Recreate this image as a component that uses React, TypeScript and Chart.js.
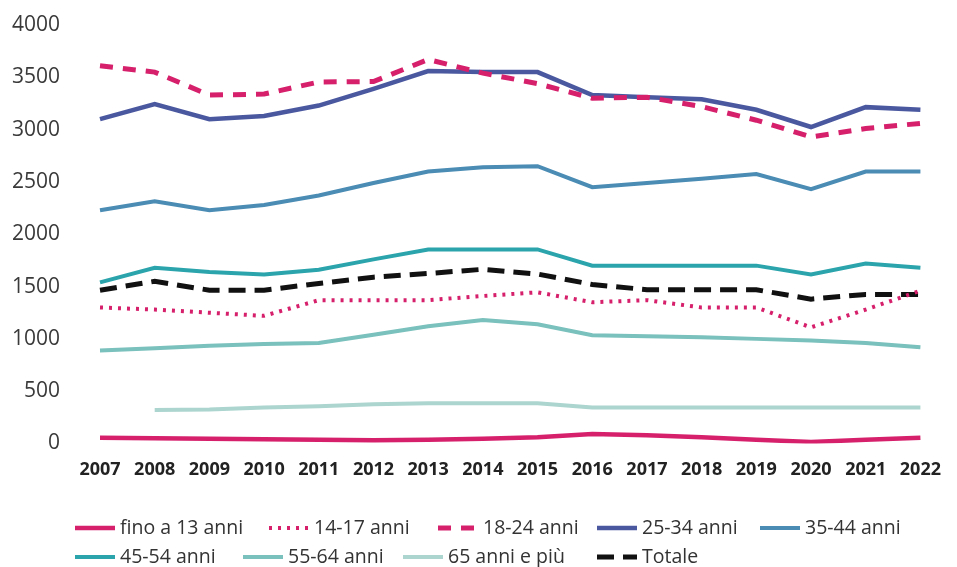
import React, { useEffect, useRef } from 'react';
import { Chart, registerables } from 'chart.js';

Chart.register(...registerables);

const years = ['2007', '2008', '2009', '2010', '2011', '2012', '2013', '2014', '2015', '2016', '2017', '2018', '2019', '2020', '2021', '2022'];

const fino13 = [55, 50, 45, 40, 35, 30, 35, 45, 60, 90, 80, 60, 35, 15, 35, 55];
const anni14_17 = [1300, 1280, 1250, 1220, 1370, 1370, 1370, 1410, 1445, 1350, 1370, 1300, 1300, 1110, 1280, 1460];
const anni18_24 = [3610, 3550, 3330, 3340, 3455, 3460, 3670, 3540, 3440, 3300, 3310, 3220, 3090, 2930, 3010, 3060];
const anni25_34 = [3100, 3245, 3100, 3130, 3230, 3390, 3560, 3550, 3550, 3330, 3310, 3290, 3190, 3025, 3215, 3190];
const anni35_44 = [2230, 2315, 2230, 2280, 2370, 2490, 2600, 2640, 2650, 2450, 2490, 2530, 2575, 2430, 2600, 2600];
const anni45_54 = [1540, 1680, 1640, 1615, 1660, 1760, 1855, 1855, 1855, 1700, 1700, 1700, 1700, 1615, 1720, 1680];
const anni55_64 = [890, 910, 935, 950, 960, 1040, 1120, 1180, 1140, 1035, 1025, 1015, 1000, 985, 960, 920];
const anni65 = [null, 320, 325, 345, 355, 375, 385, 385, 385, 345, 345, 345, 345, 345, 345, 345];
const totale = [1465, 1550, 1465, 1465, 1530, 1590, 1625, 1665, 1620, 1520, 1470, 1470, 1470, 1380, 1425, 1425];

const seriesLabels = ['fino a 13 anni', '14-17 anni', '18-24 anni', '25-34 anni', '35-44 anni', '45-54 anni', '55-64 anni', '65 anni e più', 'Totale'];
const yTicks = [0, 500, 1000, 1500, 2000, 2500, 3000, 3500, 4000];

const CRIMSON = '#d6206c';

const legendLayout = [
  { row: 0, x: 75 },
  { row: 0, x: 269 },
  { row: 0, x: 438 },
  { row: 0, x: 597 },
  { row: 0, x: 760 },
  { row: 1, x: 75 },
  { row: 1, x: 243 },
  { row: 1, x: 403 },
  { row: 1, x: 597 },
];
const legendRowY = [528, 557];

const legendPlugin = {
  id: 'customLegend',
  afterDraw(chart: any) {
    const ctx = chart.ctx;
    ctx.save();
    chart.data.datasets.forEach((ds: any, i: number) => {
      const pos = legendLayout[i];
      const y = legendRowY[pos.row];
      ctx.beginPath();
      ctx.strokeStyle = ds.borderColor;
      ctx.lineWidth = ds.borderWidth;
      ctx.setLineDash(ds.borderDash || []);
      ctx.lineCap = 'butt';
      ctx.moveTo(pos.x, y);
      ctx.lineTo(pos.x + 40, y);
      ctx.stroke();
      ctx.setLineDash([]);
      ctx.fillStyle = '#333333';
      ctx.font = '19.5px "Open Sans"';
      ctx.textBaseline = 'middle';
      ctx.textAlign = 'left';
      ctx.fillText(ds.label, pos.x + 45, y);
    });
    ctx.restore();
  },
};

export default function App() {
  const canvasRef = useRef<HTMLCanvasElement | null>(null);

  useEffect(() => {
    if (!canvasRef.current) return;
    const mk = (label: string, data: any[], color: string, width: number, dash: number[] = []) => ({
      label,
      data,
      borderColor: color,
      backgroundColor: color,
      borderWidth: width,
      borderDash: dash,
      pointRadius: 0,
      tension: 0,
      fill: false,
      spanGaps: false,
    });
    const datasets = [
      mk(seriesLabels[0], fino13, CRIMSON, 4.5),
      mk(seriesLabels[1], anni14_17, CRIMSON, 4, [3, 6]),
      mk(seriesLabels[2], anni18_24, CRIMSON, 5, [13, 10]),
      mk(seriesLabels[3], anni25_34, '#4a58a0', 4.5),
      mk(seriesLabels[4], anni35_44, '#4a8cb4', 4),
      mk(seriesLabels[5], anni45_54, '#2ba4ac', 4),
      mk(seriesLabels[6], anni55_64, '#7ac0bc', 4),
      mk(seriesLabels[7], anni65, '#acd5cf', 4),
      mk(seriesLabels[8], totale, '#111111', 5, [17, 9]),
    ];
    const chart = new Chart(canvasRef.current, {
      type: 'line',
      data: { labels: years, datasets },
      plugins: [legendPlugin],
      options: {
        animation: false,
        responsive: false,
        maintainAspectRatio: false,
        layout: { padding: { top: 25, right: 25, bottom: 0, left: 0 } },
        plugins: { legend: { display: false }, tooltip: { enabled: false } },
        scales: {
          x: {
            offset: false,
            grid: { display: false, drawTicks: false },
            border: { display: false },
            ticks: {
              color: '#222222',
              font: { family: '"Open Sans"', size: 18, weight: '700' },
              padding: 16,
              maxRotation: 0,
              autoSkip: false,
            },
            afterFit: (scale: any) => {
              scale.height = 123.5;
            },
          },
          y: {
            min: 0,
            max: 4000,
            afterBuildTicks: (scale: any) => {
              scale.ticks = yTicks.map((v) => ({ value: v }));
            },
            grid: { display: false, drawTicks: false },
            border: { display: false },
            ticks: {
              color: '#3a3a3a',
              font: { family: '"Open Sans"', size: 21 },
              padding: 40,
              callback: (v: any) => String(v),
            },
            afterFit: (scale: any) => {
              scale.width = 100;
              scale.paddingTop = 12;
              scale.paddingBottom = 12;
            },
          },
        },
      },
    });
    return () => chart.destroy();
  }, []);

  return (
    <div style={{ position: 'fixed', left: 0, top: 0, width: 957, height: 567, background: '#ffffff' }}>
      <canvas ref={canvasRef} width={957} height={567} style={{ width: 957, height: 567 }} />
    </div>
  );
}
